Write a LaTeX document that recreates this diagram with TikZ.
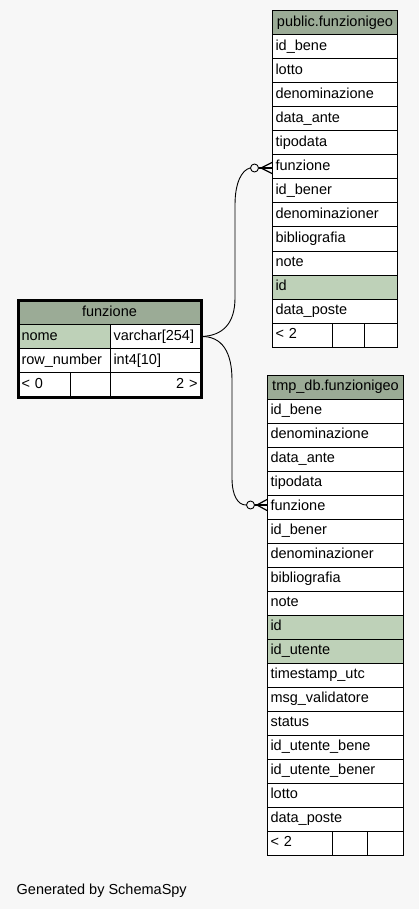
\documentclass[tikz,border=0pt]{standalone}
\usepackage{fontspec}
\setmainfont{Liberation Sans}
\usetikzlibrary{calc,fit}
\definecolor{bgc}{HTML}{F7F7F7}
\definecolor{hdrc}{HTML}{9BAB96}
\definecolor{keyc}{HTML}{BED1B8}
\newcommand{\tabfont}{\fontsize{14.5}{16}\selectfont}
\tikzset{
  cell/.style={draw=black, line width=1pt, anchor=north west, minimum height=24pt,
    inner xsep=3pt, inner ysep=0pt, align=left, text width=#1,
    text height=10pt, text depth=3pt, font=\tabfont, fill=white},
  hdr/.style={cell=#1, fill=hdrc, align=center},
  rcell/.style={cell=#1, align=right},
  conn/.style={draw=black, line width=0.9pt},
  crow/.style={draw=black, line width=1.2pt},
  opt/.style={circle, draw=black, line width=0.9pt, fill=bgc, minimum size=8pt, inner sep=0pt},
}
\begin{document}
\begin{tikzpicture}[x=1pt,y=-1pt]
\fill[bgc] (0,0) rectangle (419,909);
\useasboundingbox (0,0) rectangle (419,909);

% ---------- public.funzionigeo ----------
\node[hdr=119pt] (pub) at (272,10.5) {public.funzionigeo};
\foreach \t/\f [count=\i] in {id\_bene/white, lotto/white, denominazione/white, data\_ante/white,
  tipodata/white, funzione/white, id\_bener/white, denominazioner/white, bibliografia/white,
  note/white, id/keyc, data\_poste/white}
  \node[cell=119pt, fill=\f] (p\i) at (272,10.5+24*\i) {\t};
\node[cell=54pt] (pf1) at (272,322.5) {< 2};
\node[cell=26pt] (pf2) at (332,322.5) {};
\node[cell=27pt] (pf3) at (364,322.5) {};

% ---------- tmp_db.funzionigeo ----------
\node[hdr=130pt] (tmp) at (267,374.5) {tmp\_db.funzionigeo};
\foreach \t/\f [count=\i] in {id\_bene/white, denominazione/white, data\_ante/white, tipodata/white,
  funzione/white, id\_bener/white, denominazioner/white, bibliografia/white, note/white,
  id/keyc, id\_utente/keyc, timestamp\_utc/white, msg\_validatore/white, status/white,
  id\_utente\_bene/white, id\_utente\_bener/white, lotto/white, data\_poste/white}
  \node[cell=130pt, fill=\f] (t\i) at (267,374.5+24*\i) {\t};
\node[cell=59pt] (tf1) at (267,830.5) {< 2};
\node[cell=29pt] (tf2) at (332,830.5) {};
\node[cell=30pt] (tf3) at (367,830.5) {};

% ---------- funzione ----------
\node[hdr=176pt] (fh) at (18,300) {funzione};
\node[cell=86pt, fill=keyc] (fn1) at (18,324) {nome};
\node[cell=84pt] (fn1t) at (110,324) {varchar[254]};
\node[cell=86pt] (fn2) at (18,348) {row\_number};
\node[cell=84pt] (fn2t) at (110,348) {int4[10]};
\node[cell=46pt] (ff1) at (18,372) {< 0};
\node[cell=34pt] (ff2) at (70,372) {};
\node[rcell=84pt] (ff3) at (110,372) {2 >};
\node[draw=black, line width=3pt, fit=(fh)(ff1)(ff3), inner sep=0pt] (fnframe) {};

% ---------- connectors ----------
\node[opt] (o1) at (254.5,168) {};
\node[opt] (o2) at (250.5,505) {};
\draw[conn] (fn1t.east) .. controls (224,336) and (235,322) .. (235,298)
  -- (235,205) .. controls (235,182) and (242,170) .. (o1.west);
\draw[conn] (fn1t.east) .. controls (222,336) and (232,352) .. (232,380)
  -- (232,478) .. controls (232,496) and (238,505) .. (o2.west);
\draw[crow] (o1.east) -- (o1 -| p6.west);
\draw[crow] ($(o1.east)+(2,0)$) -- ($(o1 -| p6.west)+(0,-5.5)$);
\draw[crow] ($(o1.east)+(2,0)$) -- ($(o1 -| p6.west)+(0,5.5)$);
\draw[crow] (o2.east) -- (o2 -| t5.west);
\draw[crow] ($(o2.east)+(2,0)$) -- ($(o2 -| t5.west)+(0,-5.5)$);
\draw[crow] ($(o2.east)+(2,0)$) -- ($(o2 -| t5.west)+(0,5.5)$);

% ---------- footer ----------
\node[anchor=base west, font=\tabfont, inner sep=0pt] (gen) at (16.5,894) {Generated by SchemaSpy};
\end{tikzpicture}
\end{document}
